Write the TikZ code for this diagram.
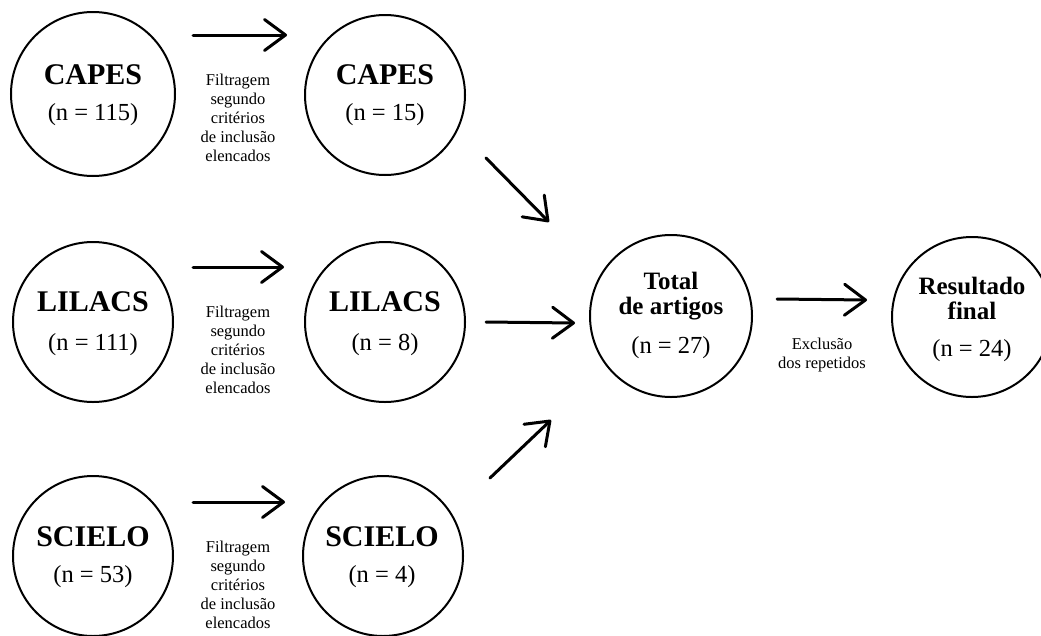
\documentclass[tikz,border=0pt]{standalone}
\usepackage{fontspec}
\setmainfont{Liberation Serif}
\usetikzlibrary{arrows.meta}
\tikzset{
  circ/.style={draw=black, line width=2pt, circle, minimum size=160pt, inner sep=0pt},
  ttl/.style={font=\fontsize{30}{32}\selectfont\bfseries, inner sep=0pt},
  ttlb/.style={font=\fontsize{25}{25}\selectfont\bfseries, align=center, inner sep=0pt},
  cnt/.style={font=\fontsize{24.5}{26}\selectfont, inner sep=0pt},
  lbl/.style={font=\fontsize{16.5}{19}\selectfont, align=center, inner sep=0pt},
  arr/.style={line width=3pt, line cap=round, -{Straight Barb[length=21pt,width=31pt,round]}}
}
\begin{document}
\begin{tikzpicture}[x=1pt, y=-1pt]
\clip (0,0) rectangle (1041,635);
\fill[white] (0,0) rectangle (1041,635);
% circles
\node[circ, minimum size=164pt] (c1a) at (93,94) {};
\node[circ] (c1b) at (385,95) {};
\node[circ] (c2a) at (93,322) {};
\node[circ] (c2b) at (385,322) {};
\node[circ] (c3a) at (93,556) {};
\node[circ] (c3b) at (383,556) {};
\node[circ, minimum size=162pt] (tot) at (671,316) {};
\node[circ] (res) at (972,317) {};
% texts
\node[ttl] (t1a) at (93,75) {CAPES};
\node[cnt] (n1a) at (93,115) {(n = 115)};
\node[ttl] (t1b) at (385,75) {CAPES};
\node[cnt] (n1b) at (385,115) {(n = 15)};
\node[ttl] (t2a) at (93,302) {LILACS};
\node[cnt] (n2a) at (93,345) {(n = 111)};
\node[ttl] (t2b) at (385,302) {LILACS};
\node[cnt] (n2b) at (385,345) {(n = 8)};
\node[ttl] (t3a) at (93,537) {SCIELO};
\node[cnt] (n3a) at (93,577) {(n = 53)};
\node[ttl] (t3b) at (382,537) {SCIELO};
\node[cnt] (n3b) at (382,577) {(n = 4)};
\node[ttlb] (ttot) at (671,296) {Total\\de artigos};
\node[cnt] (ntot) at (671,348) {(n = 27)};
\node[ttlb] (tres) at (972,298) {Resultado\\final};
\node[cnt] (nres) at (972,351) {(n = 24)};
% labels
\node[lbl] (l1) at (238,118) {Filtragem\\segundo\\critérios\\de inclusão\\elencados};
\node[lbl] (l2) at (238,350) {Filtragem\\segundo\\critérios\\de inclusão\\elencados};
\node[lbl] (l3) at (238,585) {Filtragem\\segundo\\critérios\\de inclusão\\elencados};
\node[lbl] (l4) at (822,355) {Exclusão\\dos repetidos};
% arrow end points
\coordinate (a1s) at (193,35);  \coordinate (a1e) at (287,35);
\coordinate (a2s) at (193,267); \coordinate (a2e) at (284,267);
\coordinate (a3s) at (193,502); \coordinate (a3e) at (285,502);
\coordinate (mds) at (486,322); \coordinate (mde) at (575,323);
\coordinate (ups) at (486,158); \coordinate (upe) at (549,222);
\coordinate (lws) at (490,478); \coordinate (lwe) at (551,420);
\coordinate (fns) at (777,299); \coordinate (fne) at (867,300);
\draw[arr] (a1s) -- (a1e);
\draw[arr] (a2s) -- (a2e);
\draw[arr] (a3s) -- (a3e);
\draw[arr] (mds) -- (mde);
\draw[arr] (ups) -- (upe);
\draw[arr] (lws) -- (lwe);
\draw[arr] (fns) -- (fne);
\end{tikzpicture}
\end{document}
